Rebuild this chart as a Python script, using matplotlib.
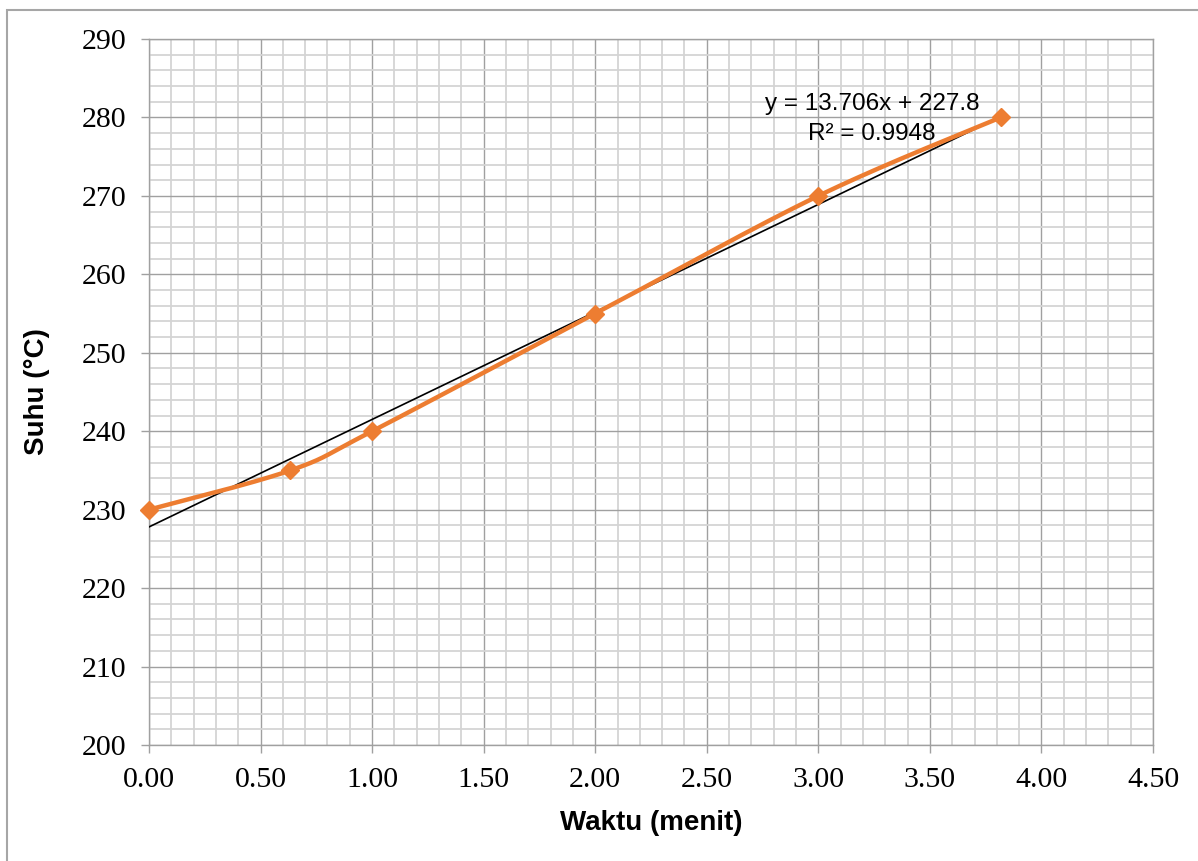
import numpy as np
import matplotlib
matplotlib.use('Agg')
import matplotlib.pyplot as plt
from matplotlib.ticker import MultipleLocator, FormatStrFormatter
from matplotlib.patches import Rectangle

# data
waktu = [0.0, 0.633, 1.0, 2.0, 3.0, 3.817]
suhu = [230, 235, 240, 255, 270, 280]
eq_text = 'y = 13.706x + 227.8\nR² = 0.9948'

ORANGE = '#ED7D31'


def excel_smooth(x, y, n=40):
    # bezier smoothing similar to excel's "smoothed line"
    x = np.asarray(x, float)
    y = np.asarray(y, float)
    px = np.concatenate([[x[0]], x, [x[-1]]])
    py = np.concatenate([[y[0]], y, [y[-1]]])
    xs, ys = [], []
    t = np.linspace(0, 1, n)
    for i in range(1, len(px) - 2):
        p0 = np.array([px[i], py[i]])
        p3 = np.array([px[i + 1], py[i + 1]])
        p1 = p0 + (np.array([px[i + 1], py[i + 1]]) - np.array([px[i - 1], py[i - 1]])) / 6
        p2 = p3 - (np.array([px[i + 2], py[i + 2]]) - np.array([px[i], py[i]])) / 6
        b = ((1 - t) ** 3)[:, None] * p0 + (3 * (1 - t) ** 2 * t)[:, None] * p1 \
            + (3 * (1 - t) * t ** 2)[:, None] * p2 + (t ** 3)[:, None] * p3
        xs.extend(b[:, 0])
        ys.extend(b[:, 1])
    return xs, ys


fig = plt.figure(figsize=(11.98, 8.61), dpi=100)
ax = fig.add_axes([149 / 1198, 1 - 745 / 861, (1153 - 149) / 1198, (745 - 39) / 861])

# outer chart border
fig.patches.append(Rectangle((7 / 1198, -0.05), 1.1, 1 - 10 / 861 + 0.05,
                             transform=fig.transFigure, fill=False,
                             edgecolor='#A6A6A6', linewidth=1.5))

ax.set_xlim(0, 4.5)
ax.set_ylim(200, 290)
ax.xaxis.set_major_locator(MultipleLocator(0.5))
ax.xaxis.set_minor_locator(MultipleLocator(0.1))
ax.yaxis.set_major_locator(MultipleLocator(10))
ax.yaxis.set_minor_locator(MultipleLocator(2))
ax.xaxis.set_major_formatter(FormatStrFormatter('%.2f'))

ax.grid(which='minor', color='#D4D4D4', linewidth=1.3, zorder=0)
ax.grid(which='major', color='#A0A0A0', linewidth=1.0, zorder=0)
ax.set_axisbelow(True)
for s in ax.spines.values():
    s.set_color('#A0A0A0')
    s.set_linewidth(1.0)

ax.tick_params(which='major', direction='out', length=6, width=1.0, color='#A0A0A0',
               labelsize=21.5, pad=10)
ax.tick_params(which='minor', length=0)
for lab in ax.get_xticklabels() + ax.get_yticklabels():
    lab.set_fontfamily('Liberation Serif')

# trendline
k, c = np.polyfit(waktu, suhu, 1)
tx = np.array([waktu[0], waktu[-1]])
ax.plot(tx, k * tx + c, color='black', linewidth=1.2, zorder=3)

# smoothed series
sx, sy = excel_smooth(waktu, suhu)
ax.plot(sx, sy, color=ORANGE, linewidth=3.2, zorder=4, solid_capstyle='round')
ax.plot(waktu, suhu, linestyle='none', marker='D', markersize=9,
        color=ORANGE, zorder=5, clip_on=False)

ax.text(3.24, 279.8, eq_text, ha='center', va='center', fontsize=17.5,
        family='Liberation Sans', linespacing=1.5, zorder=6)

ax.set_xlabel('Waktu (menit)', fontsize=20, fontweight='bold',
              family='Liberation Sans', labelpad=12)
ax.set_ylabel('Suhu (°C)', fontsize=20, fontweight='bold',
              family='Liberation Sans', labelpad=23)

fig.savefig('out.png', dpi=100)
